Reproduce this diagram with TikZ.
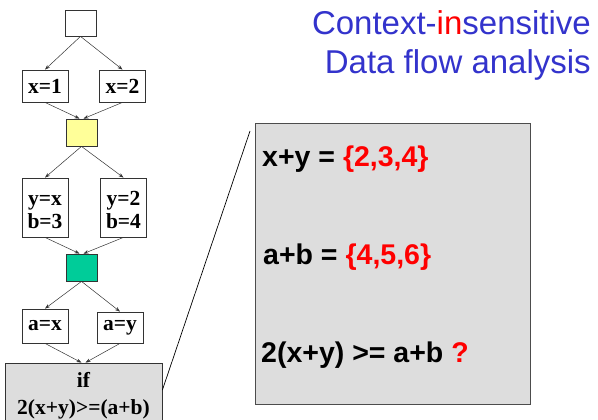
\documentclass[tikz,border=0pt]{standalone}
\usepackage{fontspec}
\setmainfont{Liberation Serif}
\newfontfamily\sansfont{Liberation Sans}
\usetikzlibrary{arrows.meta}
\definecolor{titleblue}{RGB}{51,51,204}
\definecolor{hotred}{RGB}{255,0,0}
\definecolor{joinyellow}{RGB}{255,255,153}
\definecolor{joingreen}{RGB}{0,204,153}
\definecolor{panelgray}{RGB}{221,221,221}
\begin{document}
\begin{tikzpicture}[x=1pt,y=-1pt,
  box/.style={draw=black!80, line width=0.8pt, fill=white, inner sep=0pt,
    font=\fontsize{21.5}{23}\selectfont\bfseries},
  flow/.style={draw=black!80, line width=0.5pt, -{Stealth[length=5pt,width=3.6pt]}},
  boxtext/.style={anchor=base, inner sep=0pt, font=\fontsize{21.5}{23}\selectfont\bfseries},
  paneltext/.style={anchor=base west, inner sep=0pt, font=\sansfont\fontsize{28.5}{32}\selectfont\bfseries},
  titletext/.style={anchor=base east, inner sep=0pt, text=titleblue, font=\sansfont\fontsize{33}{38}\selectfont}]
\useasboundingbox (0,0) rectangle (598,420);

% title
\node[titletext] (title1) at (591,35) {Context-\textcolor{hotred}{in}sensitive};
\node[titletext] (title2) at (591,74) {Data flow analysis};

% control-flow graph
\node[box, minimum width=31pt, minimum height=26pt] (entry) at (80.5,23) {};
\node[box, minimum width=46pt, minimum height=32pt] (xone) at (45,86) {x=1};
\node[box, minimum width=46pt, minimum height=32pt] (xtwo) at (122.5,86) {x=2};
\node[box, minimum width=31pt, minimum height=27pt, fill=joinyellow] (joinA) at (81.5,132.5) {};
\node[box, minimum width=46pt, minimum height=59pt] (yx) at (45,207.5) {};
\node[boxtext] (yxtop) at (45,205) {y=x};
\node[boxtext] (yxbot) at (45,228) {b=3};
\node[box, minimum width=46pt, minimum height=59pt] (ytwo) at (123.5,207.5) {};
\node[boxtext] (ytwotop) at (123.5,205) {y=2};
\node[boxtext] (ytwobot) at (123.5,228) {b=4};
\node[box, minimum width=31pt, minimum height=27pt, fill=joingreen] (joinB) at (81.5,267.5) {};
\node[box, minimum width=46pt, minimum height=34pt] (ax) at (45,326) {a=x};
\node[box, minimum width=46pt, minimum height=31pt] (ay) at (120,327.5) {a=y};
\node[box, minimum width=157pt, minimum height=65pt, fill=panelgray] (cond) at (83.5,395.5) {};
\node[boxtext] (condif) at (83.5,387) {if};
\node[boxtext] (condexpr) at (83.5,414) {2(x+y)>=(a+b)};

\draw[flow] (entry.south) -- (xone.north);
\draw[flow] (entry.south) -- (xtwo.north);
\draw[flow] (xone.south) -- ([xshift=-2pt]joinA.north);
\draw[flow] (xtwo.south) -- ([xshift=2pt]joinA.north);
\draw[flow] (joinA.south) -- (yx.north);
\draw[flow] (joinA.south) -- (ytwo.north);
\draw[flow] (yx.south) -- ([xshift=-2pt]joinB.north);
\draw[flow] (ytwo.south) -- ([xshift=2pt]joinB.north);
\draw[flow] (joinB.south) -- (ax.north);
\draw[flow] (joinB.south) -- (ay.north);
\draw[flow] (ax.south) -- ([xshift=-2pt]cond.north);
\draw[flow] (ay.south) -- ([xshift=2pt]cond.north);

% magnified view of the condition
\node[draw=black!70, line width=0.8pt, fill=panelgray, minimum width=275pt,
  minimum height=281pt, inner sep=0pt] (panel) at (392.5,263.5) {};
\coordinate (zoomtip) at (250,131);
\draw[black, line width=0.7pt] ([yshift=5.5pt]cond.east) -- (zoomtip);

\node[paneltext] (sumxy) at (262,167) {x+y = \textcolor{hotred}{\{2,3,4\}}};
\node[paneltext] (sumab) at (263,264) {a+b = \textcolor{hotred}{\{4,5,6\}}};
\node[paneltext] (query) at (261,362) {2(x+y) >= a+b \textcolor{hotred}{?}};
\end{tikzpicture}
\end{document}
